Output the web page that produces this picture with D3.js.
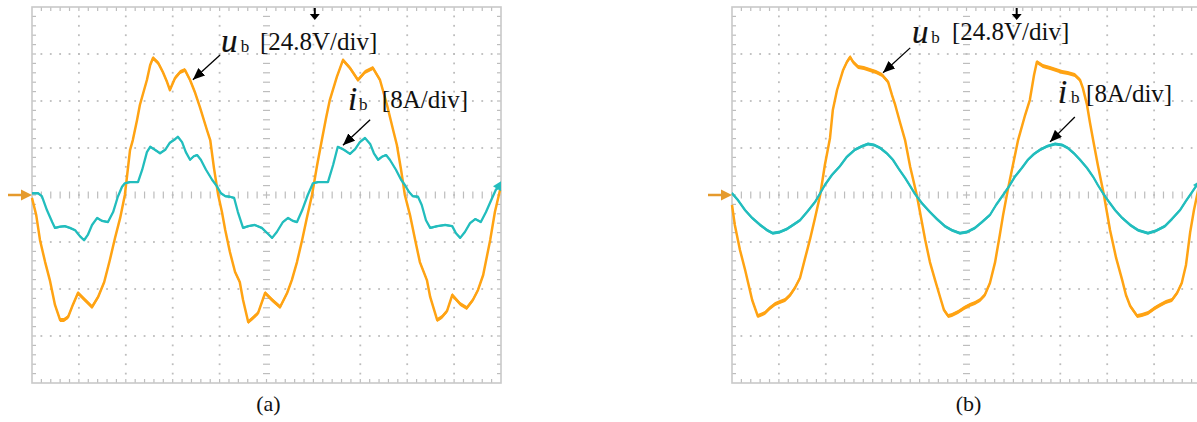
<!DOCTYPE html>
<html>
<head>
<meta charset="utf-8">
<script src="https://cdn.jsdelivr.net/npm/d3@7"></script>
<style>
  body { margin: 0; background: #fff; }
  svg { display: block; }
  text { font-family: "Liberation Serif", "Times New Roman", serif; fill: #111; }
</style>
</head>
<body>
<svg id="chart" width="1197" height="422"></svg>
<script>
(function (d3) {
  'use strict';

  const VOLTS_PER_DIV = 24.8;
  const AMPS_PER_DIV = 8;
  const X_DIVS = 10;
  const Y_DIVS = 8;
  const SUB_DIVS = 5;

  // traces: [time in div, volts] and [time in div, amps]
  const uA = [
    [0, -1.6], [0.09, -10.6], [0.17, -23.7], [0.28, -35.4], [0.38, -44.9], [0.49, -58.0],
    [0.60, -66.0], [0.68, -66.0], [0.77, -64.4], [0.87, -58.0], [0.98, -51.7], [1.13, -55.4],
    [1.28, -59.1], [1.41, -53.8], [1.54, -45.9], [1.66, -34.3], [1.77, -22.7], [1.88, -12.1],
    [1.98, 0], [2.09, 23.7], [2.15, 29.0], [2.24, 39.6], [2.30, 47.5], [2.45, 60.7],
    [2.52, 68.6], [2.58, 72.3], [2.69, 69.7], [2.79, 64.9], [2.88, 59.6], [2.94, 55.4],
    [3.05, 61.7], [3.16, 64.9], [3.26, 66.0], [3.37, 60.7], [3.48, 53.8], [3.58, 46.4],
    [3.73, 34.3], [3.80, 29.0], [3.88, 14.2], [3.97, 0], [4.05, -9.0], [4.12, -18.5],
    [4.22, -30.1], [4.33, -40.6], [4.43, -45.9], [4.50, -55.4], [4.61, -67.0], [4.71, -64.9],
    [4.82, -62.3], [4.97, -51.7], [5.12, -55.4], [5.29, -59.1], [5.44, -51.7], [5.54, -44.9],
    [5.65, -35.4], [5.76, -23.7], [5.86, -12.1], [5.97, 0], [6.08, 15.8], [6.18, 29.0],
    [6.27, 40.6], [6.35, 50.1], [6.50, 62.3], [6.63, 71.2], [6.78, 67.0], [6.95, 60.7],
    [7.10, 64.9], [7.27, 67.0], [7.42, 60.7], [7.57, 47.5], [7.70, 34.3], [7.78, 26.4],
    [7.87, 13.2], [7.95, 0], [8.06, -10.6], [8.17, -23.7], [8.27, -35.4], [8.42, -44.9],
    [8.49, -53.8], [8.64, -66.0], [8.74, -64.4], [8.85, -61.2], [8.96, -52.8], [9.13, -57.5],
    [9.27, -59.6], [9.40, -55.4], [9.51, -50.1], [9.62, -42.2], [9.77, -23.7], [9.87, -9.0],
    [9.98, 2.6]
  ];

  const iA = [
    [0, 0.3], [0.13, 0.3], [0.21, -0.2], [0.32, -2.6], [0.43, -4.6], [0.49, -5.6],
    [0.60, -5.4], [0.70, -5.3], [0.81, -5.6], [0.92, -6.0], [1.02, -7.0], [1.11, -7.7],
    [1.19, -6.8], [1.28, -5.1], [1.39, -3.9], [1.49, -4.4], [1.62, -4.6], [1.73, -2.9],
    [1.83, -0.3], [1.92, 1.4], [1.98, 2.0], [2.09, 2.2], [2.26, 2.2], [2.35, 4.3],
    [2.45, 7.3], [2.52, 8.2], [2.62, 7.7], [2.73, 7.1], [2.84, 7.7], [2.94, 8.9],
    [3.05, 9.5], [3.11, 9.9], [3.20, 9.0], [3.28, 7.3], [3.37, 6.0], [3.45, 6.6],
    [3.52, 6.8], [3.60, 6.0], [3.71, 4.3], [3.84, 2.6], [3.94, 1.5], [4.03, 0.3],
    [4.12, -0.2], [4.22, -0.3], [4.31, -0.5], [4.39, -2.9], [4.50, -5.6], [4.61, -5.3],
    [4.75, -5.1], [4.90, -5.6], [5.03, -6.6], [5.12, -7.3], [5.22, -6.3], [5.35, -4.6],
    [5.46, -3.9], [5.56, -4.4], [5.65, -4.6], [5.76, -2.6], [5.88, 0], [5.99, 2.0],
    [6.10, 2.2], [6.31, 2.2], [6.42, 5.1], [6.52, 8.2], [6.65, 7.7], [6.78, 7.0],
    [6.89, 7.8], [6.99, 9.0], [7.10, 9.7], [7.21, 8.7], [7.29, 7.1], [7.38, 6.0],
    [7.46, 6.5], [7.55, 6.8], [7.63, 6.0], [7.76, 4.3], [7.87, 2.6], [7.95, 1.7],
    [8.04, 0.5], [8.12, -0.2], [8.23, -0.3], [8.31, -1.7], [8.40, -4.3], [8.49, -5.6],
    [8.64, -5.3], [8.81, -5.1], [8.96, -5.3], [9.04, -6.5], [9.13, -7.3], [9.23, -6.3],
    [9.34, -4.8], [9.45, -4.1], [9.57, -4.6], [9.68, -2.9], [9.79, -0.9], [9.89, 0.9],
    [9.98, 1.5]
  ];

  const uB = [
    [0, -5.3], [0.06, -15.8], [0.17, -29.0], [0.28, -39.6], [0.34, -45.9], [0.43, -55.4],
    [0.55, -63.9], [0.70, -62.3], [0.81, -59.6], [0.92, -57.5], [1.02, -56.5], [1.13, -55.4],
    [1.24, -52.8], [1.34, -49.1], [1.45, -43.8], [1.56, -33.2], [1.66, -23.7], [1.77, -12.1],
    [1.88, 0], [1.98, 15.8], [2.09, 30.1], [2.15, 44.9], [2.24, 55.4], [2.37, 66.0],
    [2.45, 70.2], [2.52, 72.8], [2.58, 70.2], [2.69, 67.5], [2.81, 67.0], [2.94, 66.0],
    [3.07, 64.9], [3.20, 63.3], [3.33, 59.6], [3.41, 52.8], [3.48, 47.5], [3.58, 38.5],
    [3.69, 29.0], [3.80, 14.8], [3.94, 0], [4.12, -23.7], [4.22, -35.4], [4.33, -44.9],
    [4.43, -53.3], [4.52, -60.7], [4.61, -63.9], [4.69, -63.3], [4.82, -61.7], [4.95, -59.6],
    [5.07, -58.0], [5.18, -57.0], [5.29, -55.4], [5.39, -52.8], [5.50, -46.4], [5.61, -35.4],
    [5.71, -21.1], [5.78, -10.6], [5.88, 2.6], [5.99, 15.8], [6.10, 29.0], [6.25, 42.2],
    [6.35, 50.1], [6.44, 63.3], [6.50, 70.2], [6.63, 68.1], [6.78, 67.0], [6.91, 66.0],
    [7.04, 64.9], [7.16, 64.4], [7.31, 63.3], [7.42, 60.7], [7.48, 56.5], [7.57, 47.5],
    [7.63, 38.5], [7.70, 29.0], [7.80, 15.8], [7.93, 0], [8.06, -18.5], [8.19, -33.2],
    [8.32, -44.9], [8.40, -52.8], [8.49, -58.6], [8.64, -63.9], [8.74, -63.3], [8.87, -62.3],
    [9.02, -59.6], [9.13, -58.0], [9.25, -56.5], [9.38, -55.4], [9.49, -51.7], [9.59, -46.4],
    [9.68, -36.9], [9.77, -19.5], [9.85, -7.9], [9.94, 2.6]
  ];

  const iB = [
    [0, 0.3], [0.13, -0.9], [0.28, -2.6], [0.43, -3.9], [0.60, -5.1], [0.75, -6.0],
    [0.87, -6.5], [1.02, -6.3], [1.17, -5.8], [1.30, -5.1], [1.45, -4.3], [1.60, -2.9],
    [1.77, -1.2], [1.88, 0.3], [1.98, 1.7], [2.13, 3.4], [2.30, 4.9], [2.45, 6.5],
    [2.62, 7.7], [2.77, 8.3], [2.90, 8.7], [3.03, 8.5], [3.16, 8.0], [3.30, 7.1],
    [3.43, 6.0], [3.56, 4.4], [3.69, 2.9], [3.80, 1.5], [3.90, 0.2], [4.05, -1.4],
    [4.22, -2.9], [4.37, -4.1], [4.54, -5.3], [4.69, -6.0], [4.86, -6.5], [5.01, -6.3],
    [5.18, -5.6], [5.33, -4.6], [5.50, -3.4], [5.63, -1.7], [5.78, 0], [5.91, 1.5],
    [6.03, 3.1], [6.18, 4.6], [6.31, 6.0], [6.44, 7.0], [6.57, 7.7], [6.72, 8.3],
    [6.89, 8.7], [7.04, 8.5], [7.16, 8.0], [7.29, 7.1], [7.42, 6.0], [7.57, 4.6],
    [7.70, 3.1], [7.80, 1.7], [7.91, 0.3], [8.04, -1.2], [8.17, -2.6], [8.32, -3.9],
    [8.49, -5.1], [8.66, -6.0], [8.87, -6.5], [9.04, -6.1], [9.23, -5.3], [9.38, -4.1],
    [9.55, -2.6], [9.68, -1.0], [9.81, 0.5], [9.91, 1.7]
  ];

  const uLabel = '[24.8V/div]';
  const iLabel = '[8A/div]';
  const captions = ['(a)', '(b)'];

  const ORANGE = '#ffa313';
  const CYAN = '#22bdbd';
  const GRID = '#bdbdbd';

  const PANEL_W = 469;
  const PANEL_H = 376;
  const TOP = 7;

  // annotation anchors are in grid divisions (x from left edge, y from centre line)
  const panels = [
    {
      left: 32, u: uA, i: iA, caption: captions[0], trig: 6.03, iBand: 1.0,
      uText: { u: [4.03, 3.04], b: [4.45, 3.04], s: [4.86, 3.09] },
      uArrow: [[4.01, 2.98], [3.43, 2.45]],
      iText: { u: [6.74, 1.81], b: [6.97, 1.81], s: [7.46, 1.85] },
      iArrow: [[7.21, 1.60], [6.63, 1.06]]
    },
    {
      left: 732, u: uB, i: iB, caption: captions[1], trig: 6.07, iBand: 1.5,
      uText: { u: [3.84, 3.23], b: [4.25, 3.23], s: [4.69, 3.30] },
      uArrow: [[3.80, 3.13], [3.22, 2.60]],
      iText: { u: [6.95, 1.96], b: [7.23, 1.96], s: [7.55, 1.98] },
      iArrow: [[7.31, 1.66], [6.78, 1.13]]
    }
  ];

  const svg = d3.select('#chart');

  const defs = svg.append('defs');
  defs.append('marker')
    .attr('id', 'head')
    .attr('viewBox', '0 0 12 10')
    .attr('refX', 12)
    .attr('refY', 5)
    .attr('markerWidth', 12)
    .attr('markerHeight', 10)
    .attr('markerUnits', 'userSpaceOnUse')
    .attr('orient', 'auto')
    .append('path')
    .attr('d', 'M0,0 L12,5 L0,10 Z')
    .attr('fill', '#000');

  panels.forEach((p) => {
    const g = svg.append('g');

    const x = d3.scaleLinear().domain([0, X_DIVS]).range([p.left, p.left + PANEL_W]);
    const yDiv = d3.scaleLinear().domain([-Y_DIVS / 2, Y_DIVS / 2]).range([TOP + PANEL_H, TOP]);
    const yU = d3.scaleLinear()
      .domain([-Y_DIVS / 2 * VOLTS_PER_DIV, Y_DIVS / 2 * VOLTS_PER_DIV])
      .range([TOP + PANEL_H, TOP]);
    const yI = d3.scaleLinear()
      .domain([-Y_DIVS / 2 * AMPS_PER_DIV, Y_DIVS / 2 * AMPS_PER_DIV])
      .range([TOP + PANEL_H, TOP]);

    const x0 = x(0), x1 = x(X_DIVS), y0 = yDiv(Y_DIVS / 2), y1 = yDiv(-Y_DIVS / 2);
    const cx = x(X_DIVS / 2), cy = yDiv(0);

    // dotted graticule
    const dots = [];
    for (let k = 1; k < X_DIVS; k++) {
      if (k === X_DIVS / 2) continue;
      for (let s = 1; s < Y_DIVS * SUB_DIVS; s++) {
        dots.push([x(k), yDiv(-Y_DIVS / 2 + s / SUB_DIVS)]);
      }
    }
    for (let k = 1; k < Y_DIVS; k++) {
      if (k === Y_DIVS / 2) continue;
      for (let s = 1; s < X_DIVS * SUB_DIVS; s++) {
        dots.push([x(s / SUB_DIVS), yDiv(-Y_DIVS / 2 + k)]);
      }
    }
    g.append('g').selectAll('rect')
      .data(dots)
      .join('rect')
      .attr('x', (d) => d[0] - 0.9)
      .attr('y', (d) => d[1] - 0.9)
      .attr('width', 1.8)
      .attr('height', 1.8)
      .attr('fill', GRID);

    // minor ticks on border and centre axes
    const ticks = [];
    for (let s = 1; s < X_DIVS * SUB_DIVS; s++) {
      const tx = x(s / SUB_DIVS);
      ticks.push([tx, y0, tx, y0 + 4]);
      ticks.push([tx, y1, tx, y1 - 4]);
      ticks.push([tx, cy - 3.5, tx, cy + 3.5]);
    }
    for (let s = 1; s < Y_DIVS * SUB_DIVS; s++) {
      const ty = yDiv(-Y_DIVS / 2 + s / SUB_DIVS);
      ticks.push([x0, ty, x0 + 4, ty]);
      ticks.push([x1, ty, x1 - 4, ty]);
      ticks.push([cx - 3.5, ty, cx + 3.5, ty]);
    }
    g.append('g').selectAll('line')
      .data(ticks)
      .join('line')
      .attr('x1', (d) => d[0]).attr('y1', (d) => d[1])
      .attr('x2', (d) => d[2]).attr('y2', (d) => d[3])
      .attr('stroke', GRID)
      .attr('stroke-width', 1.2);

    g.append('rect')
      .attr('x', x0).attr('y', y0)
      .attr('width', x1 - x0).attr('height', y1 - y0)
      .attr('fill', 'none')
      .attr('stroke', '#c9c9c9')
      .attr('stroke-width', 1.6);

    // traces: a thin vertical band mimics the switching ripple on flat parts
    const drawTrace = (data, y, color, band, width) => {
      g.append('path')
        .datum(data)
        .attr('fill', color)
        .attr('d', d3.area()
          .x((d) => x(d[0]))
          .y0((d) => y(d[1]) - band)
          .y1((d) => y(d[1]) + band));
      g.append('path')
        .datum(data)
        .attr('fill', 'none')
        .attr('stroke', color)
        .attr('stroke-width', width)
        .attr('stroke-linejoin', 'round')
        .attr('d', d3.line().x((d) => x(d[0])).y((d) => y(d[1])));
    };
    drawTrace(p.u, yU, ORANGE, 2.0, 2.5);
    drawTrace(p.i, yI, CYAN, p.iBand, 2.3);

    // ground marker on the left
    g.append('path')
      .attr('d', `M${x0 - 24},${cy - 1.2} L${x0 - 11},${cy - 1.2} L${x0 - 11},${cy - 5.5} L${x0},${cy} L${x0 - 11},${cy + 5.5} L${x0 - 11},${cy + 1.2} L${x0 - 24},${cy + 1.2} Z`)
      .attr('fill', '#e59a2c');

    // channel 2 marker on the right
    const my = yI(p.i[p.i.length - 1][1]);
    g.append('path')
      .attr('d', `M${x1 - 8},${my} L${x1},${my - 5} L${x1},${my + 5} Z`)
      .attr('fill', CYAN);

    // trigger position marker at the top
    const tx = x(p.trig);
    g.append('path')
      .attr('d', `M${tx - 1},${y0 + 1} L${tx + 1},${y0 + 1} L${tx + 1},${y0 + 7} L${tx + 5},${y0 + 7} L${tx},${y0 + 13} L${tx - 5},${y0 + 7} L${tx - 1},${y0 + 7} Z`)
      .attr('fill', '#000');

    // labels
    const label = (t, italicChar, text) => {
      g.append('text')
        .attr('x', x(t.u[0])).attr('y', yDiv(t.u[1]))
        .attr('font-style', 'italic')
        .attr('font-size', 33)
        .attr('stroke', '#111')
        .attr('stroke-width', 0.2)
        .text(italicChar);
      g.append('text')
        .attr('x', x(t.b[0])).attr('y', yDiv(t.b[1]))
        .attr('font-size', 17)
        .text('b');
      g.append('text')
        .attr('x', x(t.s[0])).attr('y', yDiv(t.s[1]))
        .attr('font-size', 25)
        .text(text);
    };
    label(p.uText, 'u', uLabel);
    label(p.iText, 'i', iLabel);

    [p.uArrow, p.iArrow].forEach((a) => {
      g.append('line')
        .attr('x1', x(a[0][0])).attr('y1', yDiv(a[0][1]))
        .attr('x2', x(a[1][0])).attr('y2', yDiv(a[1][1]))
        .attr('stroke', '#000')
        .attr('stroke-width', 1.3)
        .attr('marker-end', 'url(#head)');
    });

    g.append('text')
      .attr('x', cx + 2).attr('y', y1 + 28)
      .attr('text-anchor', 'middle')
      .attr('font-size', 22)
      .text(p.caption);
  });

}(d3));
</script>
</body>
</html>
